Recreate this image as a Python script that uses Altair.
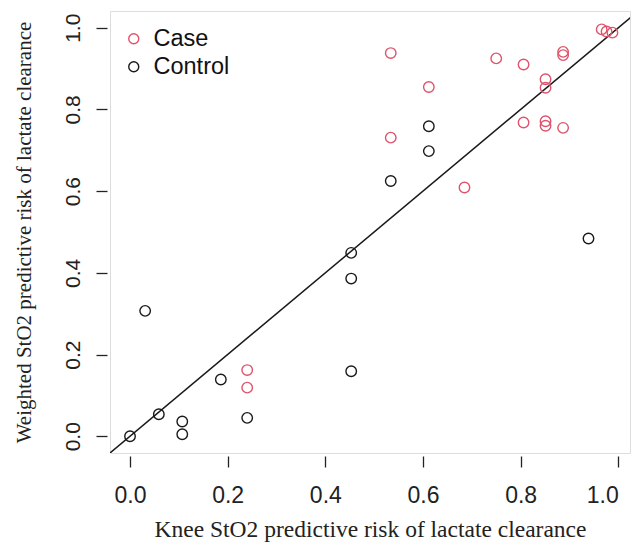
import altair as alt
import pandas as pd

# Case group (red)
case_x = [0.534, 0.750, 0.806, 0.887, 0.887, 0.966, 0.976, 0.988, 0.612, 0.851,
          0.851, 0.534, 0.806, 0.851, 0.851, 0.887, 0.685, 0.240, 0.240]
case_y = [0.938, 0.925, 0.910, 0.941, 0.933, 0.996, 0.991, 0.988, 0.855, 0.874,
          0.853, 0.731, 0.768, 0.771, 0.760, 0.755, 0.609, 0.162, 0.119]
# Control group (black)
control_x = [0.612, 0.612, 0.534, 0.453, 0.453, 0.453, 0.939, 0.031, 0.186, 0.059,
             0.107, 0.107, 0.240, 0.000]
control_y = [0.759, 0.698, 0.625, 0.449, 0.386, 0.159, 0.484, 0.307, 0.139, 0.054,
             0.036, 0.005, 0.045, 0.000]

groups = ["Case", "Control"]
colors = ["#DF536B", "#1a1a1a"]
ticks = [0.0, 0.2, 0.4, 0.6, 0.8, 1.0]
xdom = [-0.041, 1.024]
ydom = [-0.041, 1.041]
ref = [-0.05, 1.05]

df = pd.DataFrame({
    "knee": case_x + control_x,
    "weighted": case_y + control_y,
    "group": ["Case"] * len(case_x) + ["Control"] * len(control_x),
})
diag = pd.DataFrame({"a": ref, "b": ref})

W, H = 520, 442

xscale = alt.Scale(domain=xdom, nice=False, zero=False)
yscale = alt.Scale(domain=ydom, nice=False, zero=False)

xaxis = alt.Axis(values=ticks, format=".1f", grid=False, domain=False,
                 offset=3, tickSize=11, tickColor="#222", tickWidth=1.3,
                 labelFont="Liberation Sans", labelFontSize=23, labelColor="#222",
                 labelPadding=17, labelFlush=15, labelFlushOffset=0,
                 title="Knee StO2 predictive risk of lactate clearance",
                 titleFont="Liberation Serif", titleFontSize=23.5, titleFontWeight="normal",
                 titleColor="#222", titleY=80, titleBaseline="alphabetic")
yaxis = alt.Axis(values=ticks, format=".1f", grid=False, domain=False,
                 offset=3, tickSize=11, tickColor="#222", tickWidth=1.3,
                 labelFont="Liberation Sans", labelFontSize=21, labelColor="#222",
                 labelAngle=270, labelAlign="center", labelBaseline="bottom",
                 labelPadding=13, labelFlush=False,
                 title="Weighted StO2 predictive risk of lactate clearance",
                 titleFont="Liberation Serif", titleFontSize=21, titleFontWeight="normal",
                 titleColor="#222", titleAngle=270, titleX=-77, titleY=H / 2,
                 titleAlign="center", titleBaseline="alphabetic")

line = alt.Chart(diag).mark_line(color="#1a1a1a", strokeWidth=1.5, clip=True).encode(
    x=alt.X("a:Q", scale=xscale, axis=xaxis),
    y=alt.Y("b:Q", scale=yscale, axis=yaxis),
)

points = alt.Chart(df).mark_point(shape="circle", filled=False, size=110,
                                   strokeWidth=1.4, opacity=1).encode(
    x=alt.X("knee:Q", scale=xscale, axis=xaxis),
    y=alt.Y("weighted:Q", scale=yscale, axis=yaxis),
    color=alt.Color("group:N", scale=alt.Scale(domain=groups, range=colors),
                    legend=alt.Legend(title=None, orient="none", legendX=12, legendY=16,
                                      padding=0, symbolType="circle", symbolSize=100,
                                      symbolStrokeWidth=1.4, symbolFillColor="transparent",
                                      labelFont="Liberation Sans", labelFontSize=23.5,
                                      labelColor="#111", labelOffset=8, rowPadding=3)),
)

chart = alt.layer(line, points).properties(
    width=W, height=H,
    autosize=alt.AutoSizeParams(type="none"),
    padding={"left": 102, "top": 3, "right": 2, "bottom": 90},
).configure_view(stroke="#1a1a1a", strokeWidth=1.3).configure(background="white")

chart.save("out.html", embed_options={"renderer": "svg", "actions": False})
